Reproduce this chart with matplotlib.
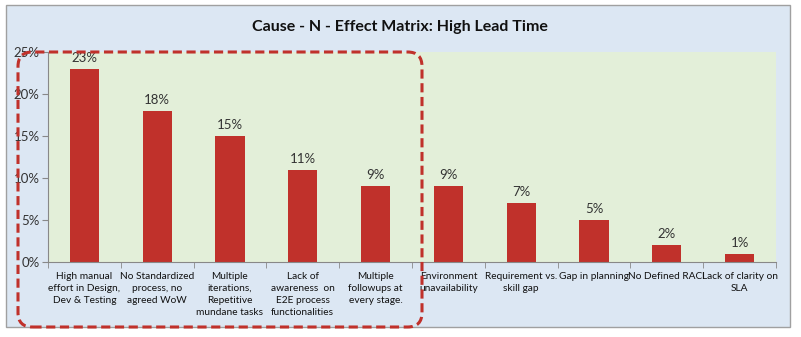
import matplotlib.pyplot as plt
from matplotlib.patches import FancyBboxPatch, Rectangle
from matplotlib.ticker import FuncFormatter, MultipleLocator

# ── Data ──────────────────────────────────────────────────────────────────────
causes = [
    "High manual\neffort in Design,\nDev & Testing",
    "No Standardized\nprocess, no\nagreed WoW",
    "Multiple\niterations,\nRepetitive\nmundane tasks",
    "Lack of\nawareness  on\nE2E process\nfunctionalities",
    "Multiple\nfollowups at\nevery stage.",
    "Environment\nunavailability",
    "Requirement vs.\nskill gap",
    "Gap in planning",
    "No Defined RACI",
    "Lack of clarity on\nSLA",
]
share = [23, 18, 15, 11, 9, 9, 7, 5, 2, 1]

BAR_RED = '#C0312B'
PLOT_BG = '#E3EFD9'
CHART_BG = '#DCE7F3'

plt.rcParams['font.family'] = ['Lato', 'DejaVu Sans']

fig = plt.figure(figsize=(8.01, 3.37), dpi=100)
fig.patch.set_facecolor('white')

# chart area background with thin grey border
fig.patches.append(Rectangle((6 / 801, 1 - 327 / 337), 784 / 801, 322 / 337,
                             transform=fig.transFigure, facecolor=CHART_BG,
                             edgecolor='#A0A0A0', linewidth=1.0, zorder=-5))

ax = fig.add_axes([48 / 801, 1 - 262 / 337, 728 / 801, 210 / 337])
ax.set_facecolor(PLOT_BG)

x = list(range(len(causes)))
bars = ax.bar(x, share, width=0.4, color=BAR_RED, zorder=2)
for xi, v in zip(x, share):
    ax.text(xi, v + 0.6, f"{v}%", ha='center', va='bottom', fontsize=9.5,
            color='#333333')

ax.set_xlim(-0.5, len(causes) - 0.5)
ax.set_ylim(0, 25)
ax.yaxis.set_major_locator(MultipleLocator(5))
ax.yaxis.set_major_formatter(FuncFormatter(lambda v, _: f"{v:.0f}%"))
ax.set_xticks(x)
ax.set_xticklabels(causes, fontsize=7.3, color='#111111', linespacing=1.45,
                   va='top')
ax.set_xticks([i - 0.5 for i in range(len(causes) + 1)], minor=True)
ax.tick_params(axis='x', which='major', length=0, pad=7)
ax.tick_params(axis='x', which='minor', length=4, color='#888888')
ax.tick_params(axis='y', length=4, color='#888888', labelsize=9.5,
               labelcolor='#333333', pad=2)

for side in ('top', 'right'):
    ax.spines[side].set_visible(False)
for side in ('left', 'bottom'):
    ax.spines[side].set_color('#888888')
    ax.spines[side].set_linewidth(0.8)

fig.text(400 / 801, 1 - 27 / 337, "Cause - N - Effect Matrix: High Lead Time",
         ha='center', va='center', fontsize=11.5, fontweight='bold',
         color='#111111')

# dashed rounded box around the first five causes
fig.patches.append(FancyBboxPatch((18 / 801, 1 - 327 / 337), 404 / 801, 275 / 337,
                                  boxstyle='round,pad=0,rounding_size=0.018',
                                  transform=fig.transFigure, fill=False,
                                  edgecolor=BAR_RED, linewidth=2.2,
                                  linestyle=(0, (3, 1.5)), zorder=5,
                                  mutation_aspect=801 / 337))

fig.savefig('out.png', dpi=100)
